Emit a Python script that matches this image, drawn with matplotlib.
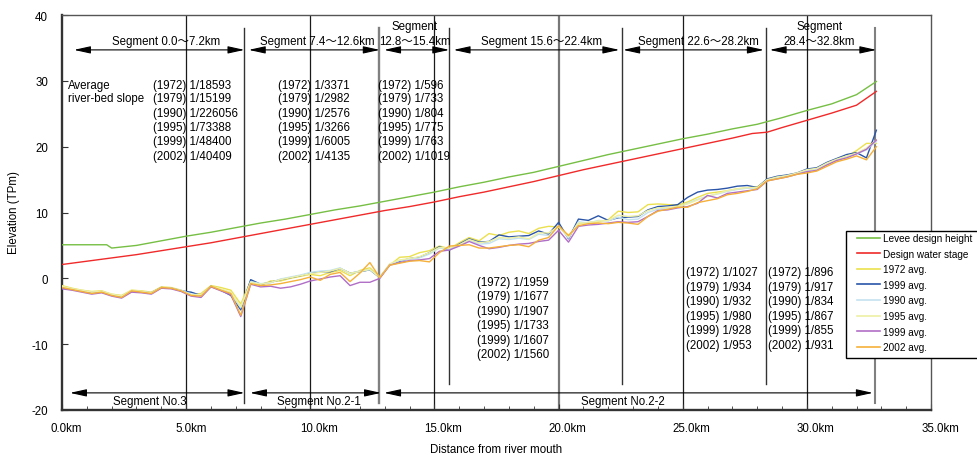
import numpy as np
import matplotlib
matplotlib.use("Agg")
import matplotlib.pyplot as plt
from matplotlib.lines import Line2D
from matplotlib.patches import Rectangle
from matplotlib.transforms import ScaledTranslation

plt.rcParams['font.family'] = ['Liberation Sans', 'Noto Sans CJK JP', 'DejaVu Sans']
plt.rcParams['axes.unicode_minus'] = False

# ---------------- data ----------------
bed_km = np.round(np.arange(0, 32.81, 0.4), 1)  # cross-sections every 0.4 km

bed_1972 = [-1.1, -1.5, -1.8, -2.0, -1.9, -2.4, -2.6, -1.8, -1.9, -2.1, -1.3, -1.4, -1.8, -2.5, -2.3,
            -1.1, -1.4, -1.8, -3.9, -0.4, -1.1, -0.4, -0.4, 0.0, 0.3, 0.6, 0.4, 0.9, 1.2, 0.4,
            1.2, 1.6, 0.2, 2.0, 3.2, 3.3, 3.9, 4.2, 4.9, 4.5, 5.4, 6.2, 5.7, 6.8, 6.5,
            7.0, 7.2, 6.8, 7.6, 7.9, 7.8, 6.5, 8.3, 8.5, 8.6, 8.9, 10.2, 10.0, 10.1, 11.2,
            11.3, 11.2, 11.1, 11.6, 12.3, 12.9, 13.1, 13.3, 13.6, 13.7, 13.9, 14.9, 15.3, 15.6, 15.9,
            16.4, 16.7, 17.3, 17.9, 18.5, 19.4, 20.5, 20.5]
bed_1979 = [-1.5, -1.7, -1.9, -2.2, -2.1, -2.5, -2.8, -1.9, -2.1, -2.2, -1.4, -1.5, -1.9, -2.1, -2.6,
            -1.2, -1.8, -2.6, -4.8, -0.2, -0.9, -0.6, -0.2, 0.1, 0.4, 0.8, 1.0, 1.0, 1.5, 0.8,
            1.0, 1.3, 0.1, 2.1, 2.6, 3.0, 3.2, 3.9, 4.8, 4.3, 5.2, 6.0, 5.5, 5.6, 6.6,
            6.3, 6.4, 6.5, 7.2, 6.7, 8.5, 6.0, 9.0, 8.8, 9.5, 8.8, 9.2, 9.3, 9.4, 10.4,
            10.9, 11.0, 11.2, 12.3, 13.1, 13.4, 13.5, 13.7, 14.0, 14.1, 13.8, 15.1, 15.5, 15.7, 16.0,
            16.6, 16.8, 17.6, 18.2, 18.8, 19.1, 18.3, 22.5]
bed_1990 = [-1.3, -1.6, -1.9, -2.1, -2.0, -2.5, -2.7, -1.9, -2.0, -2.2, -1.4, -1.5, -1.8, -2.4, -2.5,
            -1.3, -1.7, -2.3, -4.5, -0.5, -0.8, -0.7, -0.1, 0.2, 0.5, 0.9, 1.1, 1.2, 1.6, 0.7,
            1.1, 1.3, 0.2, 2.1, 2.7, 2.9, 3.1, 3.7, 4.6, 4.4, 5.0, 5.8, 5.2, 5.3, 6.0,
            5.9, 6.1, 5.9, 6.7, 6.5, 8.0, 6.1, 8.6, 8.4, 8.8, 8.7, 9.3, 8.9, 9.0, 10.0,
            10.5, 10.7, 10.8, 11.4, 12.0, 12.5, 12.8, 13.2, 13.5, 13.7, 13.7, 14.9, 15.3, 15.6, 15.9,
            16.4, 16.6, 17.4, 18.0, 18.5, 18.9, 19.5, 20.8]
bed_1995 = [-1.2, -1.6, -1.8, -2.1, -2.0, -2.4, -2.7, -1.8, -2.0, -2.2, -1.4, -1.5, -1.9, -2.5, -2.5,
            -1.2, -1.6, -2.1, -4.3, -0.6, -0.9, -0.6, -0.2, 0.1, 0.4, 0.7, 0.9, 1.1, 1.5, 0.8,
            1.0, 1.4, 0.1, 2.2, 2.8, 3.0, 3.3, 3.9, 4.7, 4.6, 5.1, 5.9, 5.4, 5.6, 6.2,
            6.1, 6.3, 6.0, 6.9, 6.9, 7.9, 6.3, 8.4, 8.4, 8.7, 8.8, 9.6, 9.4, 9.5, 10.3,
            10.7, 10.8, 10.9, 11.3, 11.9, 12.4, 12.9, 13.3, 13.6, 13.8, 13.8, 15.0, 15.4, 15.6, 16.0,
            16.5, 16.7, 17.5, 18.1, 18.6, 19.0, 19.8, 21.0]
bed_1999 = [-1.6, -1.8, -2.1, -2.4, -2.2, -2.7, -3.0, -2.1, -2.2, -2.4, -1.5, -1.6, -2.0, -2.7, -2.9,
            -1.3, -1.9, -2.5, -5.8, -0.9, -1.3, -1.2, -1.5, -1.3, -0.9, -0.4, -0.1, 0.2, 0.4, -1.1,
            -0.6, -0.6, 0.0, 2.0, 2.4, 2.7, 2.8, 3.0, 4.1, 4.3, 4.9, 5.6, 5.0, 4.5, 4.7,
            5.0, 5.2, 5.3, 5.6, 5.8, 7.3, 5.5, 7.9, 8.1, 8.2, 8.4, 8.6, 8.5, 8.6, 9.4,
            10.3, 10.4, 10.7, 10.9, 11.4, 12.6, 12.2, 12.9, 13.1, 13.3, 13.5, 14.8, 15.1, 15.4, 15.8,
            16.2, 16.4, 17.2, 17.9, 18.3, 18.9, 19.6, 21.0]
bed_2002 = [-1.4, -1.7, -2.0, -2.3, -2.1, -2.6, -2.9, -1.9, -2.1, -2.3, -1.4, -1.5, -1.9, -2.6, -2.7,
            -1.2, -1.8, -2.3, -5.6, -0.8, -1.1, -1.0, -0.8, -0.5, -0.2, 0.2, -0.3, 0.6, 0.9, -0.5,
            0.8, 2.4, 0.1, 2.0, 2.3, 2.6, 2.7, 2.5, 3.9, 4.9, 5.0, 5.1, 4.6, 4.6, 4.8,
            5.0, 5.1, 4.8, 5.8, 6.2, 8.0, 6.5, 8.0, 8.3, 8.4, 8.3, 8.5, 8.4, 8.2, 9.4,
            10.2, 10.5, 10.8, 10.8, 11.5, 11.8, 12.1, 12.7, 12.9, 13.2, 13.6, 14.8, 15.1, 15.4, 15.8,
            16.0, 16.3, 17.0, 17.7, 18.1, 18.6, 18.0, 20.0]

levee_km = [0.0, 1.8, 2.0, 3.0, 4.0, 5.0, 6.0, 7.0, 8.0, 9.0, 10.0, 11.0, 12.0, 13.0, 14.0, 15.0, 16.0,
            17.0, 18.0, 19.0, 20.0, 21.0, 22.0, 23.0, 24.0, 25.0, 26.0, 27.0, 28.0, 29.0, 30.0, 31.0,
            32.0, 32.8]
levee_height = [5.1, 5.1, 4.6, 5.0, 5.7, 6.4, 7.0, 7.7, 8.4, 9.0, 9.7, 10.4, 11.0, 11.7, 12.4, 13.1, 13.9,
                14.6, 15.4, 16.1, 17.0, 17.9, 18.8, 19.6, 20.4, 21.2, 21.9, 22.7, 23.4, 24.4, 25.5, 26.5,
                27.9, 29.9]
stage_km = [0.0, 1.0, 2.0, 3.0, 4.0, 5.0, 6.0, 7.0, 8.0, 9.0, 10.0, 11.0, 12.0, 13.0, 14.0, 15.0, 16.0,
            17.0, 18.0, 19.0, 20.0, 21.0, 22.0, 23.0, 24.0, 25.0, 26.0, 27.0, 27.8, 28.4, 29.0, 30.0,
            31.0, 32.0, 32.8]
design_stage = [2.1, 2.6, 3.1, 3.6, 4.2, 4.8, 5.4, 6.1, 6.8, 7.5, 8.2, 8.9, 9.6, 10.3, 10.9, 11.6, 12.4,
                13.1, 13.9, 14.7, 15.6, 16.5, 17.3, 18.1, 18.9, 19.7, 20.5, 21.3, 22.0, 22.2, 22.9, 24.0,
                25.1, 26.3, 28.4]

legend_labels = ["Levee design height", "Design water stage", "1972 avg.", "1999 avg.",
                 "1990 avg.", "1995 avg.", "1999 avg.", "2002 avg."]

top_seg_labels = ["Segment 0.0～7.2km", "Segment 7.4～12.6km", "Segment\n12.8～15.4km",
                  "Segment 15.6～22.4km", "Segment 22.6～28.2km", "Segment\n28.4～32.8km"]
bottom_seg_labels = ["Segment No.3", "Segment No.2-1", "Segment No.2-2"]

slope_years = ["(1972)", "(1979)", "(1990)", "(1995)", "(1999)", "(2002)"]
slope_seg1 = ["1/18593", "1/15199", "1/226056", "1/73388", "1/48400", "1/40409"]
slope_seg2 = ["1/3371", "1/2982", "1/2576", "1/3266", "1/6005", "1/4135"]
slope_seg3 = ["1/596", "1/733", "1/804", "1/775", "1/763", "1/1019"]
slope_seg4 = ["1/1959", "1/1677", "1/1907", "1/1733", "1/1607", "1/1560"]
slope_seg5 = ["1/1027", "1/934", "1/932", "1/980", "1/928", "1/953"]
slope_seg6 = ["1/896", "1/917", "1/834", "1/867", "1/855", "1/931"]

# ---------------- figure ----------------
W, H = 977, 456
fig = plt.figure(figsize=(W / 100, H / 100), dpi=100)
L, R, T, B = 62, 931, 16, 411
ax = fig.add_axes([L / W, 1 - B / H, (R - L) / W, (B - T) / H])
ax.set_xlim(0, 35)
ax.set_ylim(-20, 40)

FS = 8.3

# grid lines every 5 km
for gx in [5, 10, 15, 25, 30]:
    ax.axvline(gx, color='#1a1a1a', lw=0.9, zorder=1)
ax.axvline(20, color='#777777', lw=1.6, zorder=1)

# segment boundary lines
for sx, ybot, c, lw in [(7.35, -18.9, '#333333', 1.0), (12.75, -18.9, '#808080', 1.7),
                        (15.6, -16.1, '#333333', 1.0), (22.55, -16.1, '#333333', 1.0),
                        (28.35, -16.1, '#333333', 1.0), (32.75, -18.9, '#808080', 1.5)]:
    ax.plot([sx, sx], [ybot, 38.0], color=c, lw=lw, zorder=1)

# data lines
ax.plot(levee_km, levee_height, color='#76bf44', lw=1.0, zorder=3)
ax.plot(stage_km, design_stage, color='#f02a2a', lw=1.0, zorder=3)
bed_colors = ['#ebe04e', '#2a55a8', '#c3e2f0', '#eef0a6', '#b06ec6', '#f5b03a']
for ser, col in zip([bed_1972, bed_1979, bed_1990, bed_1995, bed_1999, bed_2002], bed_colors):
    ax.plot(bed_km, ser, color=col, lw=1.0, zorder=3)

# arrows
astyle = dict(arrowstyle='<|-|>,head_length=1.0,head_width=0.22', color='black', lw=0.8,
              shrinkA=0, shrinkB=0, mutation_scale=10)
top_arrows = [(0.48, 7.35), (7.52, 12.8), (12.97, 15.6), (15.77, 22.45), (22.6, 28.27), (28.5, 32.8)]
for a, b in top_arrows:
    ax.annotate('', xy=(b, 34.7), xytext=(a, 34.7), arrowprops=astyle, zorder=4)
bottom_arrows = [(0.32, 7.35), (7.57, 12.85), (12.97, 32.66)]
for a, b in bottom_arrows:
    ax.annotate('', xy=(b, -17.4), xytext=(a, -17.4), arrowprops=astyle, zorder=4)

# segment labels
top_label_pos = [(4.2, 36.05), (10.3, 36.05), (14.2, 37.2), (19.3, 36.05), (25.65, 36.05), (30.5, 37.2)]
for (tx, ty), lab in zip(top_label_pos, top_seg_labels):
    ax.text(tx, ty, lab, ha='center', va='center', fontsize=FS, linespacing=1.35, zorder=5)
bottom_label_pos = [(3.54, -18.7), (10.35, -18.7), (22.6, -18.7)]
for (tx, ty), lab in zip(bottom_label_pos, bottom_seg_labels):
    ax.text(tx, ty, lab, ha='center', va='center', fontsize=FS, zorder=5)

# slope text blocks
ax.text(0.25, 29.4, "Average", ha='left', va='center', fontsize=FS)
ax.text(0.25, 27.35, "river-bed slope", ha='left', va='center', fontsize=FS)
rows_top = [29.4, 27.35, 25.1, 22.95, 20.8, 18.65]
rows_b4 = [-0.56, -2.75, -4.94, -7.1, -9.35, -11.5]
rows_b5 = [0.96, -1.37, -3.45, -5.78, -7.86, -10.2]
blocks = [(3.65, rows_top, slope_seg1), (8.69, rows_top, slope_seg2), (12.73, rows_top, slope_seg3),
          (16.7, rows_b4, slope_seg4), (25.12, rows_b5, slope_seg5), (28.42, rows_b5, slope_seg6)]
for bx, rows, vals in blocks:
    for yr, ry, v in zip(slope_years, rows, vals):
        ax.text(bx, ry, f"{yr} {v}", ha='left', va='center', fontsize=FS, zorder=5)

# axes styling
ax.set_xticks(np.arange(0, 35.1, 5))
ax.set_xticks(np.arange(0, 35.1, 1), minor=True)
ax.set_xticklabels([f"{v:.1f}km" for v in np.arange(0, 35.1, 5)])
ax.set_yticks(np.arange(-20, 40.1, 10))
ax.tick_params(axis='x', which='both', direction='in', top=False, labelsize=FS, pad=9,
               color='#333333')
ax.tick_params(axis='x', which='major', length=4)
ax.tick_params(axis='x', which='minor', length=3)
ax.tick_params(axis='y', direction='in', right=False, length=4, labelsize=FS, pad=10,
               color='#333333')
offs = [4, 5, 9, 9, 9, 9, 9, 9]
for lab, o in zip(ax.get_xticklabels(), offs):
    lab.set_transform(lab.get_transform() + ScaledTranslation(o / 100, 0, fig.dpi_scale_trans))
for sp in ['left', 'bottom']:
    ax.spines[sp].set_linewidth(1.7)
    ax.spines[sp].set_color('#333333')
for sp in ['top', 'right']:
    ax.spines[sp].set_linewidth(1.0)
    ax.spines[sp].set_color('#555555')

fig.text(496 / W, 1 - 450 / H, "Distance from river mouth", ha='center', va='center', fontsize=FS)
fig.text(14 / W, 1 - 213 / H, "Elevation (TPm)", ha='center', va='center', rotation=90, fontsize=FS)

# legend (box runs past the right edge of the picture, as in the original)
frame = Rectangle((846 / W, 1 - 359 / H), 140 / W, 127 / H, transform=fig.transFigure,
                  facecolor='white', edgecolor='black', lw=1.0, zorder=9)
fig.add_artist(frame)
handles = [Line2D([], [], color=c, lw=1.2) for c in ['#76bf44', '#f02a2a'] + bed_colors]
leg = fig.legend(handles, legend_labels, loc='upper left', bbox_to_anchor=(857 / W, 1 - 234 / H),
                 fontsize=7.2, frameon=False, handlelength=2.3, handletextpad=0.3,
                 labelspacing=0.56, borderpad=0, borderaxespad=0)
leg.set_zorder(10)

fig.savefig("out.png", dpi=100)
